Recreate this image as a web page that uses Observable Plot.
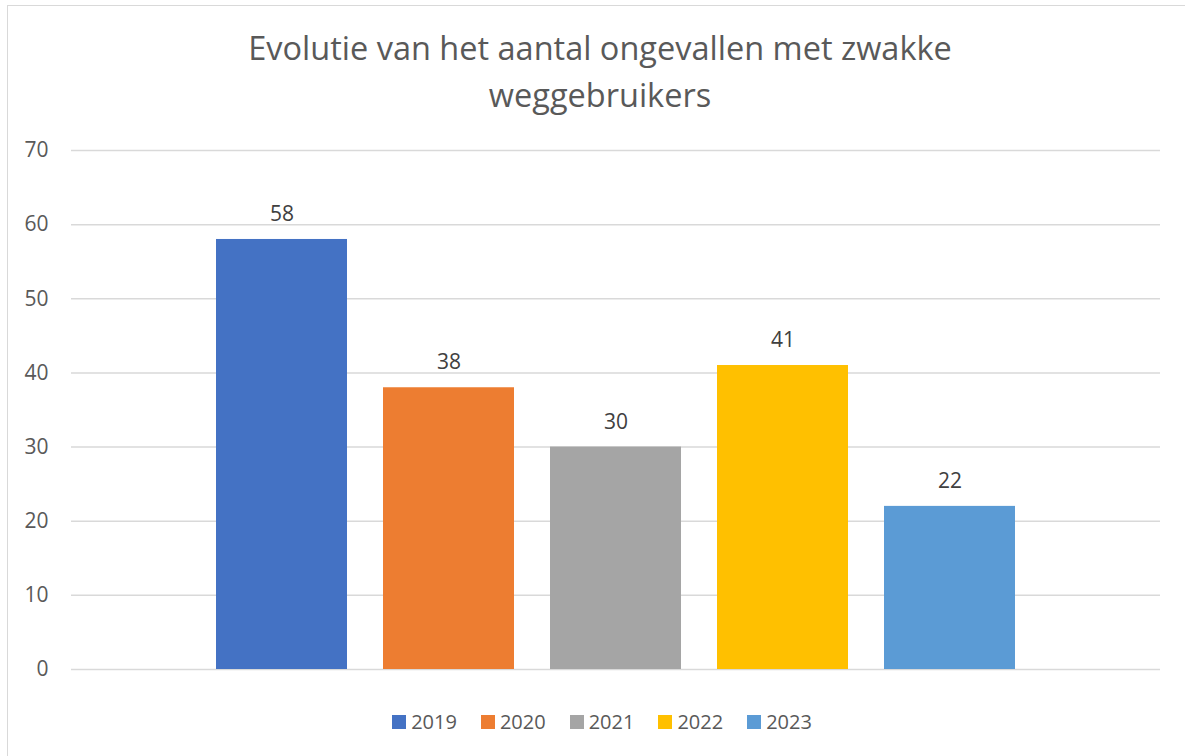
<!DOCTYPE html>
<html>
<head>
<meta charset="utf-8">
<script src="https://cdn.jsdelivr.net/npm/d3@7"></script>
<script src="https://cdn.jsdelivr.net/npm/@observablehq/plot@0.6"></script>
<style>
  html, body { margin: 0; padding: 0; background: #fff; }
  body { width: 1185px; height: 756px; overflow: hidden; position: relative; font-family: "Open Sans", "Noto Sans", sans-serif; }
  #frame { position: absolute; left: 7px; top: 5px; width: 1300px; height: 900px; border: 1.5px solid #d9d9d9; box-sizing: border-box; }
  #title { position: absolute; left: 0; top: 24px; width: 1200px; text-align: center; font-size: 32.5px; line-height: 47px; color: #595959; }
  #chart { position: absolute; left: 0; top: 130px; }
  #legend { position: absolute; left: 0; top: 708px; width: 1204px; display: flex; justify-content: center; gap: 24px; font-size: 20px; line-height: 28px; color: #595959; }
  .item { display: flex; align-items: center; gap: 5px; }
  .sw { width: 14px; height: 14px; display: inline-block; }
</style>
</head>
<body>
<div id="frame"></div>
<div id="title">Evolutie van het aantal ongevallen met zwakke<br>weggebruikers</div>
<div id="chart"></div>
<div id="legend"></div>
<script>
const years = ["2019", "2020", "2021", "2022", "2023"];
const values = [58, 38, 30, 41, 22];
const colors = ["#4472C4", "#ED7D31", "#A5A5A5", "#FFC000", "#5B9BD5"];
const yTicks = [0, 10, 20, 30, 40, 50, 60, 70];

const data = years.map((y, i) => ({year: y, value: values[i]}));

const plot = Plot.plot({
  width: 1185,
  height: 560,
  marginLeft: 71,
  marginRight: 25,
  marginTop: 20,
  marginBottom: 21,
  style: {fontFamily: "'Open Sans', 'Noto Sans', sans-serif", fontSize: "21px", color: "#595959", background: "transparent"},
  x: {domain: years, range: [197, 1034], paddingInner: 0.214, paddingOuter: 0.107, axis: null},
  y: {domain: [0, 70], ticks: yTicks, label: null},
  color: {domain: years, range: colors},
  marks: [
    Plot.ruleY(yTicks, {stroke: "#d9d9d9", strokeWidth: 1.5}),
    Plot.axisY({ticks: yTicks, tickSize: 0, tickPadding: 23, label: null, fontSize: 21, fill: "#595959"}),
    Plot.barY(data, {x: "year", y: "value", fill: "year"}),
    Plot.text(data, {x: "year", y: "value", text: d => String(d.value), dy: -25, fontSize: 21, fill: "#404040"})
  ]
});
document.getElementById("chart").appendChild(plot);

const legend = document.getElementById("legend");
years.forEach((y, i) => {
  const it = document.createElement("div");
  it.className = "item";
  const sw = document.createElement("span");
  sw.className = "sw";
  sw.style.background = colors[i];
  const t = document.createElement("span");
  t.textContent = y;
  it.appendChild(sw);
  it.appendChild(t);
  legend.appendChild(it);
});
</script>
</body>
</html>
